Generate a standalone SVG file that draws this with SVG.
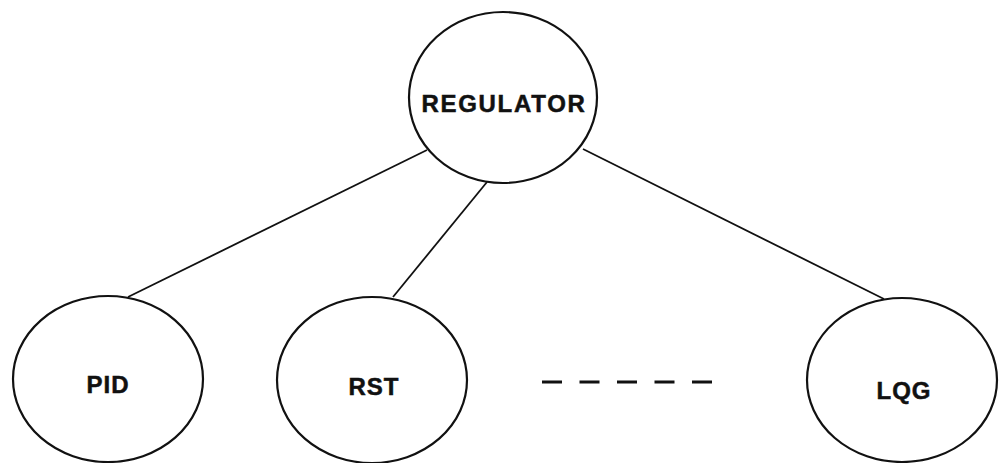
<svg xmlns="http://www.w3.org/2000/svg" width="999" height="463" viewBox="0 0 999 463">
  <style>
    .node { fill: #fff; stroke: #111; stroke-width: 2.2; }
    .label { font-family: "Liberation Sans", Arial, sans-serif; font-weight: bold; font-size: 24px; fill: #111; stroke: #111; stroke-width: 0.5; text-anchor: middle; letter-spacing: 1px; }
    .edge { stroke: #111; stroke-width: 1.8; fill: none; }
    .dots { stroke: #111; stroke-width: 3; stroke-dasharray: 20 17.5; fill: none; }
  </style>
  <rect width="999" height="463" fill="#fff"/>
  <g id="connectors">
    <line class="edge" x1="427" y1="150" x2="128" y2="297"/>
    <line class="edge" x1="487" y1="182" x2="393" y2="297"/>
    <line class="edge" x1="583" y1="149" x2="884" y2="299"/>
    <line class="dots" x1="542" y1="382" x2="714" y2="382"/>
  </g>
  <g id="regulator">
    <ellipse class="node" cx="503" cy="97.5" rx="94" ry="85.5"/>
    <text class="label" x="504" y="112" style="letter-spacing:1.7px">REGULATOR</text>
  </g>
  <g id="pid">
    <ellipse class="node" cx="108" cy="379" rx="95" ry="83"/>
    <text class="label" x="108" y="393">PID</text>
  </g>
  <g id="rst">
    <ellipse class="node" cx="372" cy="380" rx="95" ry="83"/>
    <text class="label" x="374" y="395">RST</text>
  </g>
  <g id="lqg">
    <ellipse class="node" cx="902" cy="380" rx="95" ry="82"/>
    <text class="label" x="904" y="399">LQG</text>
  </g>
</svg>
